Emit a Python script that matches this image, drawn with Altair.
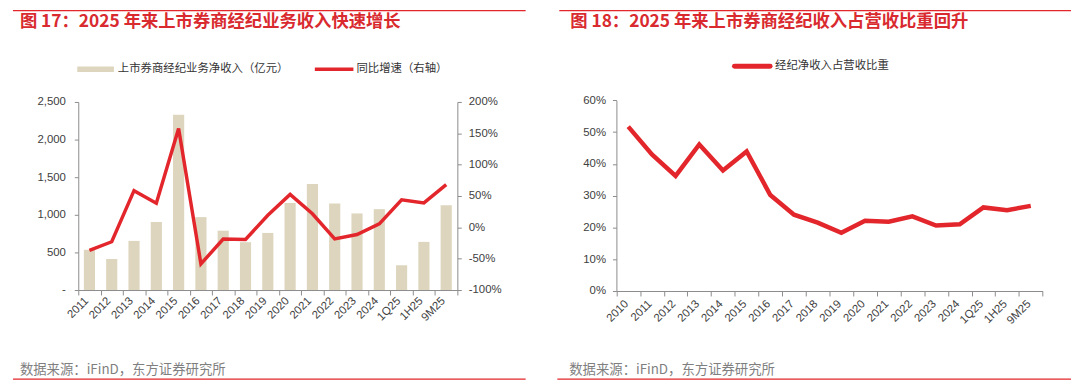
import altair as alt
import pandas as pd

# ---------------- data ----------------
periods_left = ["2011", "2012", "2013", "2014", "2015", "2016", "2017", "2018", "2019",
                "2020", "2021", "2022", "2023", "2024", "1Q25", "1H25", "9M25"]
brokerage_income = [535, 412, 653, 904, 2329, 969, 789, 636, 759,
                    1158, 1408, 1149, 1018, 1075, 329, 640, 1127]
yoy_growth = [-0.368, -0.23, 0.585, 0.384, 1.576, -0.584, -0.186, -0.194, 0.193,
              0.526, 0.216, -0.184, -0.114, 0.056, 0.44, 0.39, 0.68]

periods_right = ["2010", "2011", "2012", "2013", "2014", "2015", "2016", "2017", "2018",
                 "2019", "2020", "2021", "2022", "2023", "2024", "1Q25", "1H25", "9M25"]
brokerage_share = [0.517, 0.43, 0.362, 0.461, 0.379, 0.439, 0.302, 0.24, 0.215,
                   0.183, 0.221, 0.218, 0.235, 0.206, 0.21, 0.263, 0.254, 0.268]

left_ticks = [0, 500, 1000, 1500, 2000, 2500]
growth_ticks = [-1.0, -0.5, 0.0, 0.5, 1.0, 1.5, 2.0]
share_ticks = [0.0, 0.1, 0.2, 0.3, 0.4, 0.5, 0.6]

title_left = "图 17：2025 年来上市券商经纪业务收入快速增长"
title_right = "图 18：2025 年来上市券商经纪收入占营收比重回升"
legend_bar = "上市券商经纪业务净收入（亿元）"
legend_line = "同比增速（右轴）"
legend_share = "经纪净收入占营收比重"
source_note = "数据来源：iFinD，东方证券研究所"

# ---------------- style ----------------
CJK = "Noto Sans CJK SC"
NUM = "Liberation Sans"
RED = "#E3262B"
TITLE_RED = "#D92A2F"
BAR = "#DDD5BD"
AXIS = "#8C8C8C"
LABEL = "#404040"
W, H = 532, 376


def text_layer(s, x, y, size, color, weight="normal"):
    return alt.Chart(pd.DataFrame({"t": [s]})).mark_text(
        align="left", baseline="middle", fontSize=size, color=color,
        fontWeight=weight, font=CJK
    ).encode(x=alt.value(x), y=alt.value(y), text="t:N")


def hrule(x1, x2, y, color, width, cap="butt"):
    return alt.Chart(pd.DataFrame({"d": [0]})).mark_rule(
        color=color, strokeWidth=width, strokeCap=cap
    ).encode(x=alt.value(x1), x2=alt.value(x2), y=alt.value(y))


def x_axis(offset, lab_off, lab_pad):
    return alt.Axis(
        orient="bottom", offset=offset, title=None, tickBand="extent", tickSize=5,
        labelAngle=-45, labelAlign="right", labelBaseline="middle",
        labelOffset=lab_off, labelPadding=lab_pad, labelFont=NUM, labelFontSize=11.5,
        labelColor=LABEL, domainColor=AXIS, tickColor=AXIS, grid=False,
        labelOverlap=False, labelBound=False,
    )


# ---------------- left panel ----------------
df_left = pd.DataFrame({"period": periods_left, "income": brokerage_income, "yoy": yoy_growth})
xl_scale = alt.Scale(range=[66, 449], paddingInner=0, paddingOuter=0)
xl_axis = x_axis(-(H - 283), -3, 4)

bars = alt.Chart(df_left).mark_bar(color=BAR, width=alt.RelativeBandSize(0.5)).encode(
    x=alt.X("period:N", sort=periods_left, scale=xl_scale, axis=xl_axis),
    y=alt.Y("income:Q", scale=alt.Scale(domain=[0, 2500], range=[283, 93], nice=False),
            axis=alt.Axis(orient="left", offset=-66, values=left_ticks, title=None,
                          labelExpr="datum.value == 0 ? '-' : format(datum.value, ',')",
                          tickSize=4, labelPadding=9, labelFont=NUM, labelFontSize=11.5,
                          labelColor=LABEL, domainColor=AXIS, tickColor=AXIS, grid=False)),
)

growth_line = alt.Chart(df_left).mark_line(color=RED, strokeWidth=3.5).encode(
    x=alt.X("period:N", sort=periods_left, scale=xl_scale, axis=xl_axis),
    y=alt.Y("yoy:Q", scale=alt.Scale(domain=[-1, 2], range=[283, 93], nice=False, zero=False),
            axis=alt.Axis(orient="right", offset=-(W - 449), values=growth_ticks, title=None,
                          labelExpr="toString(round(datum.value * 100)) + '%'",
                          tickSize=4, labelPadding=7, labelFont=NUM, labelFontSize=11.5,
                          labelColor=LABEL, domainColor=AXIS, tickColor=AXIS, grid=False)),
)

left = alt.layer(
    bars,
    growth_line,
    hrule(0, 518, 0.8, RED, 1.3),
    text_layer(title_left, 7, 12.5, 17.5, TITLE_RED, "bold"),
    hrule(65, 102, 60, BAR, 5.5),
    text_layer(legend_bar, 106, 60, 11.5, "#333333"),
    hrule(305, 344, 60, RED, 3.5),
    text_layer(legend_line, 347, 60, 11.5, "#333333"),
    text_layer(source_note, 7, 364, 13.5, "#7F7F7F"),
    hrule(0, 518, 373, RED, 1.3),
).resolve_scale(y="independent").properties(width=W, height=H)

# ---------------- right panel ----------------
df_right = pd.DataFrame({"period": periods_right, "share": brokerage_share})
xr_scale = alt.Scale(range=[72.7, 503.3], paddingInner=0, paddingOuter=0)

share_line = alt.Chart(df_right).mark_line(color=RED, strokeWidth=4.5).encode(
    x=alt.X("period:N", sort=periods_right, scale=xr_scale, axis=x_axis(-(H - 284), -2, 6)),
    y=alt.Y("share:Q", scale=alt.Scale(domain=[0, 0.6], range=[284, 91.3], nice=False),
            axis=alt.Axis(orient="left", offset=-72.7, values=share_ticks, title=None,
                          labelExpr="toString(round(datum.value * 100)) + '%'",
                          tickSize=4, labelPadding=7, labelFont=NUM, labelFontSize=11.5,
                          labelColor=LABEL, domainColor=AXIS, tickColor=AXIS, grid=False)),
)

right = alt.layer(
    share_line,
    hrule(15, 532, 0.8, RED, 1.3),
    text_layer(title_right, 26, 12.5, 17.5, TITLE_RED, "bold"),
    hrule(192, 228, 57, RED, 5, "round"),
    text_layer(legend_share, 233, 57, 11.5, "#333333"),
    text_layer(source_note, 25, 364, 13.5, "#7F7F7F"),
    hrule(13, 532, 373, RED, 1.3),
).properties(width=W, height=H)

chart = alt.hconcat(left, right, spacing=0).properties(
    padding={"left": 0, "right": 0, "top": 0, "bottom": 0}
).configure_view(stroke=None)

chart.save("out.html", embed_options={"renderer": "svg", "actions": False})
